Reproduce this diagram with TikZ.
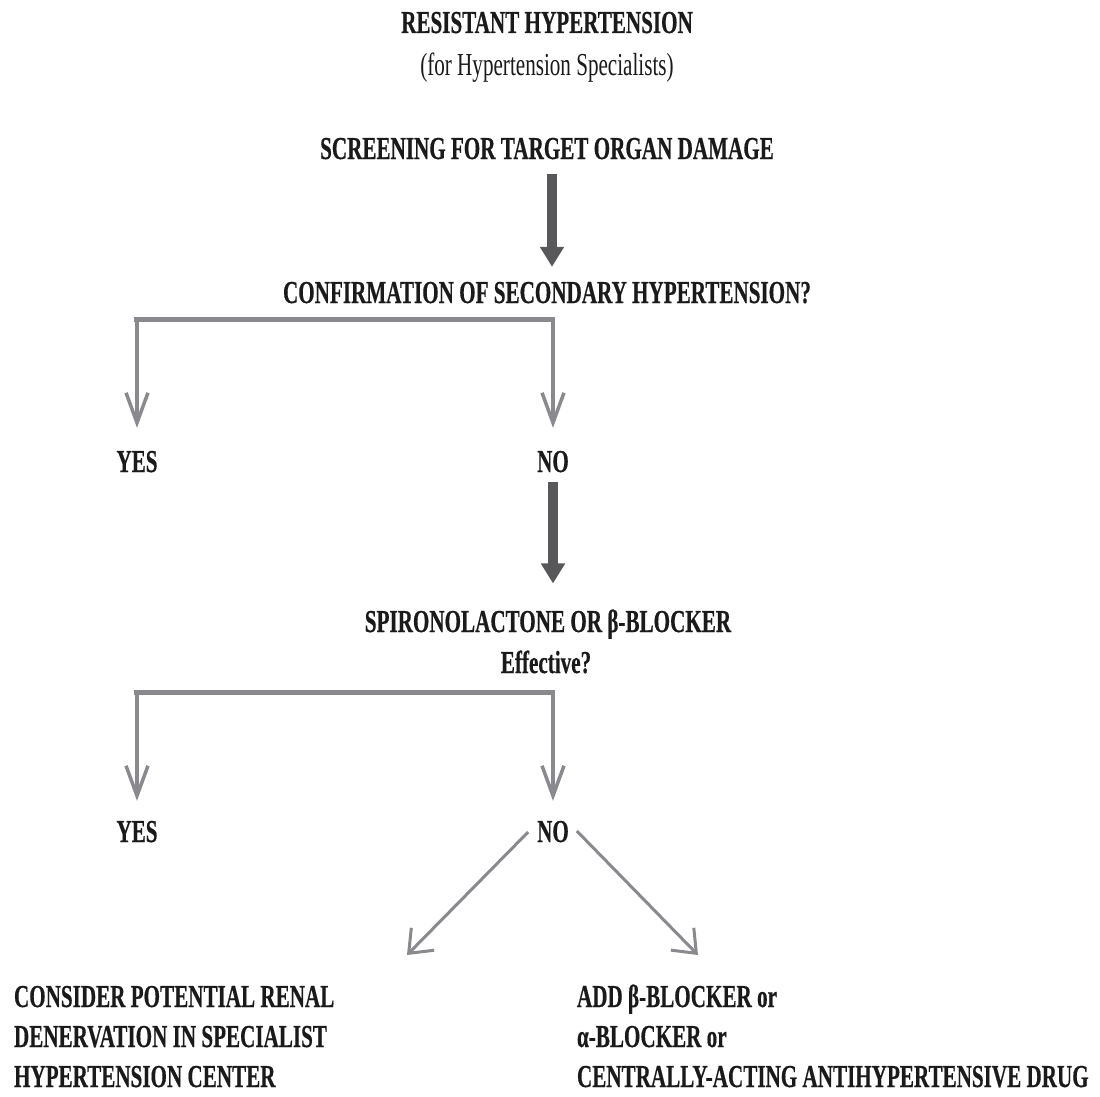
\documentclass[tikz,border=0pt]{standalone}
\usepackage{fontspec}
\setmainfont{Liberation Serif}[FakeStretch=0.66,BoldFeatures={FakeBold=0.4}]
\usetikzlibrary{arrows.meta,calc}
\definecolor{linegray}{HTML}{8A8A8E}
\definecolor{darkarrow}{HTML}{58585A}
\definecolor{inkblack}{HTML}{1A1A1A}
\begin{document}
\begin{tikzpicture}[x=1pt,y=-1pt,
  txt/.style={font=\fontsize{32}{40}\selectfont\bfseries, text=inkblack, inner sep=0pt, outer sep=0pt, anchor=base},
  subtxt/.style={font=\fontsize{32}{40}\selectfont, text=inkblack, inner sep=0pt, outer sep=0pt, anchor=base},
  ltxt/.style={txt, anchor=base west},
  bigarrow/.style={draw=darkarrow, fill=darkarrow, line width=9.5pt, -{Triangle[width=23pt,length=20pt]}},
  bar/.style={draw=linegray, line width=5.5pt},
  vstem/.style={draw=linegray, line width=3.5pt, -{Straight Barb[length=30pt,width=22pt]}},
  dstem/.style={draw=linegray, line width=3pt, -{Straight Barb[length=20pt,width=32pt]}}]
\fill[white] (0,0) rectangle (1100,1097);
\useasboundingbox (0,0) rectangle (1100,1097);

\node[txt] (title) at (547,33) {RESISTANT HYPERTENSION};
\node[subtxt] (sub) at (547,76) {(for Hypertension Specialists)};
\node[txt] (screen) at (547,159) {SCREENING FOR TARGET ORGAN DAMAGE};
\node[txt] (confirm) at (547,303) {CONFIRMATION OF SECONDARY HYPERTENSION?};
\node[txt] (yes1) at (137,472) {YES};
\node[txt] (no1) at (553,472) {NO};
\node[txt] (spiro) at (548,632) {SPIRONOLACTONE OR β-BLOCKER};
\node[txt] (eff) at (546,673) {Effective?};
\node[txt] (yes2) at (137,842) {YES};
\node[txt] (no2) at (553,842) {NO};

\node[ltxt] (renalA) at (14,1007) {CONSIDER POTENTIAL RENAL};
\node[ltxt] (renalB) at (14,1047) {DENERVATION IN SPECIALIST};
\node[ltxt] (renalC) at (14,1087) {HYPERTENSION CENTER};
\node[ltxt] (drugA) at (577,1007) {ADD β-BLOCKER or};
\node[ltxt] (drugB) at (577,1047) {α-BLOCKER or};
\node[ltxt] (drugC) at (577,1087) {CENTRALLY-ACTING ANTIHYPERTENSIVE DRUG};

% thick arrows
\draw[bigarrow] ([shift={(5pt,-15pt)}]screen.south) -- ([shift={(5pt,15pt)}]confirm.north);
\draw[bigarrow] ([yshift=-10pt]no1.south) -- ($(no1.south |- spiro.north)+(0,-26)$);

% first bracket
\coordinate (b1) at ($(confirm.south)+(0,16)$);
\draw[bar] ($(b1 -| yes1)+(-3,0)$) -- ($(b1 -| no1)+(2,0)$);
\draw[vstem] (b1 -| yes1) -- ($(yes1.north)+(0,-23)$);
\draw[vstem] (b1 -| no1) -- ($(no1.north)+(0,-23)$);

% second bracket
\coordinate (b2) at ($(eff.south)+(0,19)$);
\draw[bar] ($(b2 -| yes2)+(-3,0)$) -- ($(b2 -| no2)+(2,0)$);
\draw[vstem] (b2 -| yes2) -- ($(yes2.north)+(0,-20)$);
\draw[vstem] (b2 -| no2) -- ($(no2.north)+(0,-20)$);

% diagonals
\coordinate (tipL) at (407,955);
\coordinate (tipR) at (698,955);
\draw[dstem] ($(no2.base west)+(-9,-10)$) -- (tipL);
\draw[dstem] ($(no2.base east)+(8,-11)$) -- (tipR);
\end{tikzpicture}
\end{document}
